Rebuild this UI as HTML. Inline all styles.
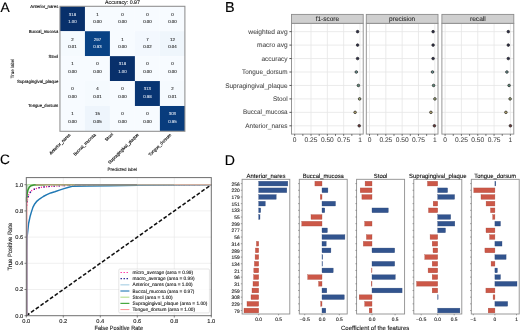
<!DOCTYPE html>
<html><head><meta charset="utf-8"><style>
html,body{margin:0;padding:0;background:#fff;}
#fig{position:relative;width:520px;height:331px;overflow:hidden;background:#fff;}
svg{display:block;will-change:transform;}
text{font-family:"Liberation Sans", sans-serif;text-rendering:geometricPrecision;}
</style></head><body>
<div id="fig"><svg width="520" height="331" viewBox="0 0 520 331">
<text x="0.50" y="11.60" font-size="13.80" fill="#000" text-anchor="start" stroke="#000" stroke-width="0.15">A</text>
<text x="225.00" y="11.80" font-size="14.40" fill="#000" text-anchor="start" stroke="#000" stroke-width="0.15">B</text>
<text x="0.00" y="164.30" font-size="13.60" fill="#000" text-anchor="start" stroke="#000" stroke-width="0.15">C</text>
<text x="224.80" y="164.60" font-size="14.10" fill="#000" text-anchor="start" stroke="#000" stroke-width="0.15">D</text>
<rect x="59.95" y="6.30" width="25.04" height="24.97" fill="#08306b"/>
<rect x="84.94" y="6.30" width="25.04" height="24.97" fill="#f7fbff"/>
<rect x="109.93" y="6.30" width="25.04" height="24.97" fill="#f7fbff"/>
<rect x="134.92" y="6.30" width="25.04" height="24.97" fill="#f7fbff"/>
<rect x="159.91" y="6.30" width="25.04" height="24.97" fill="#f7fbff"/>
<rect x="59.95" y="31.22" width="25.04" height="24.97" fill="#f5fafe"/>
<rect x="84.94" y="31.22" width="25.04" height="24.97" fill="#084285"/>
<rect x="109.93" y="31.22" width="25.04" height="24.97" fill="#f7fbff"/>
<rect x="134.92" y="31.22" width="25.04" height="24.97" fill="#f3f8fe"/>
<rect x="159.91" y="31.22" width="25.04" height="24.97" fill="#eff6fc"/>
<rect x="59.95" y="56.14" width="25.04" height="24.97" fill="#f7fbff"/>
<rect x="84.94" y="56.14" width="25.04" height="24.97" fill="#f7fbff"/>
<rect x="109.93" y="56.14" width="25.04" height="24.97" fill="#08306b"/>
<rect x="134.92" y="56.14" width="25.04" height="24.97" fill="#f7fbff"/>
<rect x="159.91" y="56.14" width="25.04" height="24.97" fill="#f7fbff"/>
<rect x="59.95" y="81.06" width="25.04" height="24.97" fill="#f7fbff"/>
<rect x="84.94" y="81.06" width="25.04" height="24.97" fill="#f5fafe"/>
<rect x="109.93" y="81.06" width="25.04" height="24.97" fill="#f7fbff"/>
<rect x="134.92" y="81.06" width="25.04" height="24.97" fill="#083573"/>
<rect x="159.91" y="81.06" width="25.04" height="24.97" fill="#f5fafe"/>
<rect x="59.95" y="105.98" width="25.04" height="24.97" fill="#f7fbff"/>
<rect x="84.94" y="105.98" width="25.04" height="24.97" fill="#eef5fc"/>
<rect x="109.93" y="105.98" width="25.04" height="24.97" fill="#f7fbff"/>
<rect x="134.92" y="105.98" width="25.04" height="24.97" fill="#f7fbff"/>
<rect x="159.91" y="105.98" width="25.04" height="24.97" fill="#083c7d"/>
<text x="72.45" y="15.60" font-size="4.40" fill="#e8eef8" text-anchor="middle" textLength="7.31" lengthAdjust="spacingAndGlyphs" stroke="#e8eef8" stroke-width="0.05">318</text>
<text x="72.45" y="22.90" font-size="4.40" fill="#e8eef8" text-anchor="middle" textLength="8.53" lengthAdjust="spacingAndGlyphs" stroke="#e8eef8" stroke-width="0.05">1.00</text>
<text x="97.44" y="15.60" font-size="4.40" fill="#111111" text-anchor="middle" textLength="2.44" lengthAdjust="spacingAndGlyphs" stroke="#111111" stroke-width="0.08">1</text>
<text x="97.44" y="22.90" font-size="4.40" fill="#111111" text-anchor="middle" textLength="8.53" lengthAdjust="spacingAndGlyphs" stroke="#111111" stroke-width="0.08">0.00</text>
<text x="122.43" y="15.60" font-size="4.40" fill="#111111" text-anchor="middle" textLength="2.44" lengthAdjust="spacingAndGlyphs" stroke="#111111" stroke-width="0.08">0</text>
<text x="122.43" y="22.90" font-size="4.40" fill="#111111" text-anchor="middle" textLength="8.53" lengthAdjust="spacingAndGlyphs" stroke="#111111" stroke-width="0.08">0.00</text>
<text x="147.42" y="15.60" font-size="4.40" fill="#111111" text-anchor="middle" textLength="2.44" lengthAdjust="spacingAndGlyphs" stroke="#111111" stroke-width="0.08">0</text>
<text x="147.42" y="22.90" font-size="4.40" fill="#111111" text-anchor="middle" textLength="8.53" lengthAdjust="spacingAndGlyphs" stroke="#111111" stroke-width="0.08">0.00</text>
<text x="172.41" y="15.60" font-size="4.40" fill="#111111" text-anchor="middle" textLength="2.44" lengthAdjust="spacingAndGlyphs" stroke="#111111" stroke-width="0.08">0</text>
<text x="172.41" y="22.90" font-size="4.40" fill="#111111" text-anchor="middle" textLength="8.53" lengthAdjust="spacingAndGlyphs" stroke="#111111" stroke-width="0.08">0.00</text>
<text x="72.45" y="40.52" font-size="4.40" fill="#111111" text-anchor="middle" textLength="2.44" lengthAdjust="spacingAndGlyphs" stroke="#111111" stroke-width="0.08">2</text>
<text x="72.45" y="47.82" font-size="4.40" fill="#111111" text-anchor="middle" textLength="8.53" lengthAdjust="spacingAndGlyphs" stroke="#111111" stroke-width="0.08">0.01</text>
<text x="97.44" y="40.52" font-size="4.40" fill="#e8eef8" text-anchor="middle" textLength="7.31" lengthAdjust="spacingAndGlyphs" stroke="#e8eef8" stroke-width="0.05">297</text>
<text x="97.44" y="47.82" font-size="4.40" fill="#e8eef8" text-anchor="middle" textLength="8.53" lengthAdjust="spacingAndGlyphs" stroke="#e8eef8" stroke-width="0.05">0.93</text>
<text x="122.43" y="40.52" font-size="4.40" fill="#111111" text-anchor="middle" textLength="2.44" lengthAdjust="spacingAndGlyphs" stroke="#111111" stroke-width="0.08">1</text>
<text x="122.43" y="47.82" font-size="4.40" fill="#111111" text-anchor="middle" textLength="8.53" lengthAdjust="spacingAndGlyphs" stroke="#111111" stroke-width="0.08">0.00</text>
<text x="147.42" y="40.52" font-size="4.40" fill="#111111" text-anchor="middle" textLength="2.44" lengthAdjust="spacingAndGlyphs" stroke="#111111" stroke-width="0.08">7</text>
<text x="147.42" y="47.82" font-size="4.40" fill="#111111" text-anchor="middle" textLength="8.53" lengthAdjust="spacingAndGlyphs" stroke="#111111" stroke-width="0.08">0.02</text>
<text x="172.41" y="40.52" font-size="4.40" fill="#111111" text-anchor="middle" textLength="4.87" lengthAdjust="spacingAndGlyphs" stroke="#111111" stroke-width="0.08">12</text>
<text x="172.41" y="47.82" font-size="4.40" fill="#111111" text-anchor="middle" textLength="8.53" lengthAdjust="spacingAndGlyphs" stroke="#111111" stroke-width="0.08">0.04</text>
<text x="72.45" y="65.44" font-size="4.40" fill="#111111" text-anchor="middle" textLength="2.44" lengthAdjust="spacingAndGlyphs" stroke="#111111" stroke-width="0.08">1</text>
<text x="72.45" y="72.74" font-size="4.40" fill="#111111" text-anchor="middle" textLength="8.53" lengthAdjust="spacingAndGlyphs" stroke="#111111" stroke-width="0.08">0.00</text>
<text x="97.44" y="65.44" font-size="4.40" fill="#111111" text-anchor="middle" textLength="2.44" lengthAdjust="spacingAndGlyphs" stroke="#111111" stroke-width="0.08">0</text>
<text x="97.44" y="72.74" font-size="4.40" fill="#111111" text-anchor="middle" textLength="8.53" lengthAdjust="spacingAndGlyphs" stroke="#111111" stroke-width="0.08">0.00</text>
<text x="122.43" y="65.44" font-size="4.40" fill="#e8eef8" text-anchor="middle" textLength="7.31" lengthAdjust="spacingAndGlyphs" stroke="#e8eef8" stroke-width="0.05">318</text>
<text x="122.43" y="72.74" font-size="4.40" fill="#e8eef8" text-anchor="middle" textLength="8.53" lengthAdjust="spacingAndGlyphs" stroke="#e8eef8" stroke-width="0.05">1.00</text>
<text x="147.42" y="65.44" font-size="4.40" fill="#111111" text-anchor="middle" textLength="2.44" lengthAdjust="spacingAndGlyphs" stroke="#111111" stroke-width="0.08">0</text>
<text x="147.42" y="72.74" font-size="4.40" fill="#111111" text-anchor="middle" textLength="8.53" lengthAdjust="spacingAndGlyphs" stroke="#111111" stroke-width="0.08">0.00</text>
<text x="172.41" y="65.44" font-size="4.40" fill="#111111" text-anchor="middle" textLength="2.44" lengthAdjust="spacingAndGlyphs" stroke="#111111" stroke-width="0.08">0</text>
<text x="172.41" y="72.74" font-size="4.40" fill="#111111" text-anchor="middle" textLength="8.53" lengthAdjust="spacingAndGlyphs" stroke="#111111" stroke-width="0.08">0.00</text>
<text x="72.45" y="90.36" font-size="4.40" fill="#111111" text-anchor="middle" textLength="2.44" lengthAdjust="spacingAndGlyphs" stroke="#111111" stroke-width="0.08">0</text>
<text x="72.45" y="97.66" font-size="4.40" fill="#111111" text-anchor="middle" textLength="8.53" lengthAdjust="spacingAndGlyphs" stroke="#111111" stroke-width="0.08">0.00</text>
<text x="97.44" y="90.36" font-size="4.40" fill="#111111" text-anchor="middle" textLength="2.44" lengthAdjust="spacingAndGlyphs" stroke="#111111" stroke-width="0.08">4</text>
<text x="97.44" y="97.66" font-size="4.40" fill="#111111" text-anchor="middle" textLength="8.53" lengthAdjust="spacingAndGlyphs" stroke="#111111" stroke-width="0.08">0.01</text>
<text x="122.43" y="90.36" font-size="4.40" fill="#111111" text-anchor="middle" textLength="2.44" lengthAdjust="spacingAndGlyphs" stroke="#111111" stroke-width="0.08">0</text>
<text x="122.43" y="97.66" font-size="4.40" fill="#111111" text-anchor="middle" textLength="8.53" lengthAdjust="spacingAndGlyphs" stroke="#111111" stroke-width="0.08">0.00</text>
<text x="147.42" y="90.36" font-size="4.40" fill="#e8eef8" text-anchor="middle" textLength="7.31" lengthAdjust="spacingAndGlyphs" stroke="#e8eef8" stroke-width="0.05">313</text>
<text x="147.42" y="97.66" font-size="4.40" fill="#e8eef8" text-anchor="middle" textLength="8.53" lengthAdjust="spacingAndGlyphs" stroke="#e8eef8" stroke-width="0.05">0.98</text>
<text x="172.41" y="90.36" font-size="4.40" fill="#111111" text-anchor="middle" textLength="2.44" lengthAdjust="spacingAndGlyphs" stroke="#111111" stroke-width="0.08">2</text>
<text x="172.41" y="97.66" font-size="4.40" fill="#111111" text-anchor="middle" textLength="8.53" lengthAdjust="spacingAndGlyphs" stroke="#111111" stroke-width="0.08">0.01</text>
<text x="72.45" y="115.28" font-size="4.40" fill="#111111" text-anchor="middle" textLength="2.44" lengthAdjust="spacingAndGlyphs" stroke="#111111" stroke-width="0.08">1</text>
<text x="72.45" y="122.58" font-size="4.40" fill="#111111" text-anchor="middle" textLength="8.53" lengthAdjust="spacingAndGlyphs" stroke="#111111" stroke-width="0.08">0.00</text>
<text x="97.44" y="115.28" font-size="4.40" fill="#111111" text-anchor="middle" textLength="4.87" lengthAdjust="spacingAndGlyphs" stroke="#111111" stroke-width="0.08">15</text>
<text x="97.44" y="122.58" font-size="4.40" fill="#111111" text-anchor="middle" textLength="8.53" lengthAdjust="spacingAndGlyphs" stroke="#111111" stroke-width="0.08">0.05</text>
<text x="122.43" y="115.28" font-size="4.40" fill="#111111" text-anchor="middle" textLength="2.44" lengthAdjust="spacingAndGlyphs" stroke="#111111" stroke-width="0.08">0</text>
<text x="122.43" y="122.58" font-size="4.40" fill="#111111" text-anchor="middle" textLength="8.53" lengthAdjust="spacingAndGlyphs" stroke="#111111" stroke-width="0.08">0.00</text>
<text x="147.42" y="115.28" font-size="4.40" fill="#111111" text-anchor="middle" textLength="2.44" lengthAdjust="spacingAndGlyphs" stroke="#111111" stroke-width="0.08">0</text>
<text x="147.42" y="122.58" font-size="4.40" fill="#111111" text-anchor="middle" textLength="8.53" lengthAdjust="spacingAndGlyphs" stroke="#111111" stroke-width="0.08">0.00</text>
<text x="172.41" y="115.28" font-size="4.40" fill="#e8eef8" text-anchor="middle" textLength="7.31" lengthAdjust="spacingAndGlyphs" stroke="#e8eef8" stroke-width="0.05">303</text>
<text x="172.41" y="122.58" font-size="4.40" fill="#e8eef8" text-anchor="middle" textLength="8.53" lengthAdjust="spacingAndGlyphs" stroke="#e8eef8" stroke-width="0.05">0.95</text>
<rect x="59.95" y="6.30" width="124.95" height="125.00" fill="none" stroke="#8e8e8e" stroke-width="1.05"/>
<text x="122.50" y="4.30" font-size="5.46" fill="#111" text-anchor="middle" textLength="35.03" lengthAdjust="spacingAndGlyphs" stroke="#111" stroke-width="0.1">Accuracy: 0.97</text>
<text x="58.30" y="7.80" font-size="4.40" fill="#111" text-anchor="end" textLength="27.99" lengthAdjust="spacingAndGlyphs" stroke="#111" stroke-width="0.14">Anterior_nares</text>
<text x="58.30" y="32.72" font-size="4.40" fill="#111" text-anchor="end" textLength="29.54" lengthAdjust="spacingAndGlyphs" stroke="#111" stroke-width="0.14">Buccal_mucosa</text>
<text x="58.30" y="57.64" font-size="4.40" fill="#111" text-anchor="end" textLength="9.68" lengthAdjust="spacingAndGlyphs" stroke="#111" stroke-width="0.14">Stool</text>
<text x="58.30" y="82.56" font-size="4.40" fill="#111" text-anchor="end" textLength="41.28" lengthAdjust="spacingAndGlyphs" stroke="#111" stroke-width="0.14">Supragingival_plaque</text>
<text x="58.30" y="107.48" font-size="4.40" fill="#111" text-anchor="end" textLength="30.09" lengthAdjust="spacingAndGlyphs" stroke="#111" stroke-width="0.14">Tongue_dorsum</text>
<text x="0" y="0" transform="translate(13.70 68.50) rotate(-90)" font-size="4.66" fill="#111" text-anchor="middle" textLength="19.68" lengthAdjust="spacingAndGlyphs" stroke="#111" stroke-width="0.1">True label</text>
<text x="0" y="0" transform="translate(70.70 135.20) rotate(-45)" font-size="4.40" fill="#111" text-anchor="end" textLength="27.99" lengthAdjust="spacingAndGlyphs" stroke="#111" stroke-width="0.16">Anterior_nares</text>
<text x="0" y="0" transform="translate(96.10 135.00) rotate(-45)" font-size="4.40" fill="#111" text-anchor="end" textLength="29.54" lengthAdjust="spacingAndGlyphs" stroke="#111" stroke-width="0.16">Buccal_mucosa</text>
<text x="0" y="0" transform="translate(113.40 134.60) rotate(-45)" font-size="4.40" fill="#111" text-anchor="end" textLength="9.68" lengthAdjust="spacingAndGlyphs" stroke="#111" stroke-width="0.16">Stool</text>
<text x="0" y="0" transform="translate(139.00 135.00) rotate(-45)" font-size="4.40" fill="#111" text-anchor="end" textLength="41.28" lengthAdjust="spacingAndGlyphs" stroke="#111" stroke-width="0.16">Supragingival_plaque</text>
<text x="0" y="0" transform="translate(171.50 135.20) rotate(-45)" font-size="4.40" fill="#111" text-anchor="end" textLength="30.09" lengthAdjust="spacingAndGlyphs" stroke="#111" stroke-width="0.16">Tongue_dorsum</text>
<text x="122.30" y="170.50" font-size="4.58" fill="#111" text-anchor="middle" textLength="29.58" lengthAdjust="spacingAndGlyphs" stroke="#111" stroke-width="0.1">Predicted label</text>
<rect x="291.50" y="23.30" width="71.70" height="110.80" fill="#ffffff"/>
<line x1="294.70" y1="23.3" x2="294.70" y2="134.1" stroke="#e6e6e6" stroke-width="0.8"/>
<line x1="311.02" y1="23.3" x2="311.02" y2="134.1" stroke="#e6e6e6" stroke-width="0.8"/>
<line x1="327.35" y1="23.3" x2="327.35" y2="134.1" stroke="#e6e6e6" stroke-width="0.8"/>
<line x1="343.67" y1="23.3" x2="343.67" y2="134.1" stroke="#e6e6e6" stroke-width="0.8"/>
<line x1="360.00" y1="23.3" x2="360.00" y2="134.1" stroke="#e6e6e6" stroke-width="0.8"/>
<line x1="291.5" y1="31.65" x2="363.2" y2="31.65" stroke="#e6e6e6" stroke-width="0.8"/>
<line x1="291.5" y1="45.10" x2="363.2" y2="45.10" stroke="#e6e6e6" stroke-width="0.8"/>
<line x1="291.5" y1="58.55" x2="363.2" y2="58.55" stroke="#e6e6e6" stroke-width="0.8"/>
<line x1="291.5" y1="72.00" x2="363.2" y2="72.00" stroke="#e6e6e6" stroke-width="0.8"/>
<line x1="291.5" y1="85.45" x2="363.2" y2="85.45" stroke="#e6e6e6" stroke-width="0.8"/>
<line x1="291.5" y1="98.90" x2="363.2" y2="98.90" stroke="#e6e6e6" stroke-width="0.8"/>
<line x1="291.5" y1="112.35" x2="363.2" y2="112.35" stroke="#e6e6e6" stroke-width="0.8"/>
<line x1="291.5" y1="125.80" x2="363.2" y2="125.80" stroke="#e6e6e6" stroke-width="0.8"/>
<circle cx="357.60" cy="31.65" r="1.3" fill="#2a2a48" stroke="#2a2a2a" stroke-width="0.75"/>
<circle cx="357.60" cy="45.10" r="1.3" fill="#2a2a48" stroke="#2a2a2a" stroke-width="0.75"/>
<circle cx="357.60" cy="58.55" r="1.3" fill="#2a2a48" stroke="#2a2a2a" stroke-width="0.75"/>
<circle cx="356.30" cy="72.00" r="1.3" fill="#6a9696" stroke="#2a2a2a" stroke-width="0.75"/>
<circle cx="358.40" cy="85.45" r="1.3" fill="#5a8a78" stroke="#2a2a2a" stroke-width="0.75"/>
<circle cx="359.60" cy="98.90" r="1.3" fill="#a0a878" stroke="#2a2a2a" stroke-width="0.75"/>
<circle cx="355.10" cy="112.35" r="1.3" fill="#b8a870" stroke="#2a2a2a" stroke-width="0.75"/>
<circle cx="359.20" cy="125.80" r="1.3" fill="#6a3434" stroke="#2a2a2a" stroke-width="0.75"/>
<rect x="291.50" y="23.30" width="71.70" height="110.80" fill="none" stroke="#8c8c8c" stroke-width="0.9"/>
<rect x="291.50" y="14.4" width="71.70" height="8.90" fill="#cfcfcf" stroke="#8c8c8c" stroke-width="0.9"/>
<text x="327.35" y="20.90" font-size="6.66" fill="#222" text-anchor="middle" textLength="23.37" lengthAdjust="spacingAndGlyphs" stroke="#222" stroke-width="0.06">f1-score</text>
<line x1="302.86" y1="134.1" x2="302.86" y2="135.9" stroke="#333" stroke-width="0.7"/>
<line x1="319.19" y1="134.1" x2="319.19" y2="135.9" stroke="#333" stroke-width="0.7"/>
<line x1="335.51" y1="134.1" x2="335.51" y2="135.9" stroke="#333" stroke-width="0.7"/>
<line x1="351.84" y1="134.1" x2="351.84" y2="135.9" stroke="#333" stroke-width="0.7"/>
<line x1="294.70" y1="134.1" x2="294.70" y2="135.9" stroke="#333" stroke-width="0.7"/>
<text x="294.70" y="141.80" font-size="6.66" fill="#444" text-anchor="middle" textLength="3.68" lengthAdjust="spacingAndGlyphs" stroke="#444" stroke-width="0.06">0</text>
<line x1="311.02" y1="134.1" x2="311.02" y2="135.9" stroke="#333" stroke-width="0.7"/>
<text x="311.02" y="141.80" font-size="6.66" fill="#444" text-anchor="middle" textLength="12.89" lengthAdjust="spacingAndGlyphs" stroke="#444" stroke-width="0.06">0.25</text>
<line x1="327.35" y1="134.1" x2="327.35" y2="135.9" stroke="#333" stroke-width="0.7"/>
<text x="327.35" y="141.80" font-size="6.66" fill="#444" text-anchor="middle" textLength="12.89" lengthAdjust="spacingAndGlyphs" stroke="#444" stroke-width="0.06">0.50</text>
<line x1="343.67" y1="134.1" x2="343.67" y2="135.9" stroke="#333" stroke-width="0.7"/>
<text x="343.67" y="141.80" font-size="6.66" fill="#444" text-anchor="middle" textLength="12.89" lengthAdjust="spacingAndGlyphs" stroke="#444" stroke-width="0.06">0.75</text>
<line x1="360.00" y1="134.1" x2="360.00" y2="135.9" stroke="#333" stroke-width="0.7"/>
<text x="360.00" y="141.80" font-size="6.66" fill="#444" text-anchor="middle" textLength="3.68" lengthAdjust="spacingAndGlyphs" stroke="#444" stroke-width="0.06">1</text>
<rect x="366.30" y="23.30" width="71.70" height="110.80" fill="#ffffff"/>
<line x1="369.50" y1="23.3" x2="369.50" y2="134.1" stroke="#e6e6e6" stroke-width="0.8"/>
<line x1="385.82" y1="23.3" x2="385.82" y2="134.1" stroke="#e6e6e6" stroke-width="0.8"/>
<line x1="402.15" y1="23.3" x2="402.15" y2="134.1" stroke="#e6e6e6" stroke-width="0.8"/>
<line x1="418.48" y1="23.3" x2="418.48" y2="134.1" stroke="#e6e6e6" stroke-width="0.8"/>
<line x1="434.80" y1="23.3" x2="434.80" y2="134.1" stroke="#e6e6e6" stroke-width="0.8"/>
<line x1="366.3" y1="31.65" x2="438.0" y2="31.65" stroke="#e6e6e6" stroke-width="0.8"/>
<line x1="366.3" y1="45.10" x2="438.0" y2="45.10" stroke="#e6e6e6" stroke-width="0.8"/>
<line x1="366.3" y1="58.55" x2="438.0" y2="58.55" stroke="#e6e6e6" stroke-width="0.8"/>
<line x1="366.3" y1="72.00" x2="438.0" y2="72.00" stroke="#e6e6e6" stroke-width="0.8"/>
<line x1="366.3" y1="85.45" x2="438.0" y2="85.45" stroke="#e6e6e6" stroke-width="0.8"/>
<line x1="366.3" y1="98.90" x2="438.0" y2="98.90" stroke="#e6e6e6" stroke-width="0.8"/>
<line x1="366.3" y1="112.35" x2="438.0" y2="112.35" stroke="#e6e6e6" stroke-width="0.8"/>
<line x1="366.3" y1="125.80" x2="438.0" y2="125.80" stroke="#e6e6e6" stroke-width="0.8"/>
<circle cx="433.10" cy="31.65" r="1.3" fill="#2a2a48" stroke="#2a2a2a" stroke-width="0.75"/>
<circle cx="433.10" cy="45.10" r="1.3" fill="#2a2a48" stroke="#2a2a2a" stroke-width="0.75"/>
<circle cx="433.10" cy="58.55" r="1.3" fill="#2a2a48" stroke="#2a2a2a" stroke-width="0.75"/>
<circle cx="432.50" cy="72.00" r="1.3" fill="#6a9696" stroke="#2a2a2a" stroke-width="0.75"/>
<circle cx="433.60" cy="85.45" r="1.3" fill="#5a8a78" stroke="#2a2a2a" stroke-width="0.75"/>
<circle cx="434.90" cy="98.90" r="1.3" fill="#a0a878" stroke="#2a2a2a" stroke-width="0.75"/>
<circle cx="430.90" cy="112.35" r="1.3" fill="#b8a870" stroke="#2a2a2a" stroke-width="0.75"/>
<circle cx="434.40" cy="125.80" r="1.3" fill="#6a3434" stroke="#2a2a2a" stroke-width="0.75"/>
<rect x="366.30" y="23.30" width="71.70" height="110.80" fill="none" stroke="#8c8c8c" stroke-width="0.9"/>
<rect x="366.30" y="14.4" width="71.70" height="8.90" fill="#cfcfcf" stroke="#8c8c8c" stroke-width="0.9"/>
<text x="402.15" y="20.90" font-size="6.66" fill="#222" text-anchor="middle" textLength="26.12" lengthAdjust="spacingAndGlyphs" stroke="#222" stroke-width="0.06">precision</text>
<line x1="377.66" y1="134.1" x2="377.66" y2="135.9" stroke="#333" stroke-width="0.7"/>
<line x1="393.99" y1="134.1" x2="393.99" y2="135.9" stroke="#333" stroke-width="0.7"/>
<line x1="410.31" y1="134.1" x2="410.31" y2="135.9" stroke="#333" stroke-width="0.7"/>
<line x1="426.64" y1="134.1" x2="426.64" y2="135.9" stroke="#333" stroke-width="0.7"/>
<line x1="369.50" y1="134.1" x2="369.50" y2="135.9" stroke="#333" stroke-width="0.7"/>
<text x="369.50" y="141.80" font-size="6.66" fill="#444" text-anchor="middle" textLength="3.68" lengthAdjust="spacingAndGlyphs" stroke="#444" stroke-width="0.06">0</text>
<line x1="385.82" y1="134.1" x2="385.82" y2="135.9" stroke="#333" stroke-width="0.7"/>
<text x="385.82" y="141.80" font-size="6.66" fill="#444" text-anchor="middle" textLength="12.89" lengthAdjust="spacingAndGlyphs" stroke="#444" stroke-width="0.06">0.25</text>
<line x1="402.15" y1="134.1" x2="402.15" y2="135.9" stroke="#333" stroke-width="0.7"/>
<text x="402.15" y="141.80" font-size="6.66" fill="#444" text-anchor="middle" textLength="12.89" lengthAdjust="spacingAndGlyphs" stroke="#444" stroke-width="0.06">0.50</text>
<line x1="418.48" y1="134.1" x2="418.48" y2="135.9" stroke="#333" stroke-width="0.7"/>
<text x="418.48" y="141.80" font-size="6.66" fill="#444" text-anchor="middle" textLength="12.89" lengthAdjust="spacingAndGlyphs" stroke="#444" stroke-width="0.06">0.75</text>
<line x1="434.80" y1="134.1" x2="434.80" y2="135.9" stroke="#333" stroke-width="0.7"/>
<text x="434.80" y="141.80" font-size="6.66" fill="#444" text-anchor="middle" textLength="3.68" lengthAdjust="spacingAndGlyphs" stroke="#444" stroke-width="0.06">1</text>
<rect x="441.90" y="23.30" width="71.90" height="110.80" fill="#ffffff"/>
<line x1="445.10" y1="23.3" x2="445.10" y2="134.1" stroke="#e6e6e6" stroke-width="0.8"/>
<line x1="461.42" y1="23.3" x2="461.42" y2="134.1" stroke="#e6e6e6" stroke-width="0.8"/>
<line x1="477.75" y1="23.3" x2="477.75" y2="134.1" stroke="#e6e6e6" stroke-width="0.8"/>
<line x1="494.07" y1="23.3" x2="494.07" y2="134.1" stroke="#e6e6e6" stroke-width="0.8"/>
<line x1="510.40" y1="23.3" x2="510.40" y2="134.1" stroke="#e6e6e6" stroke-width="0.8"/>
<line x1="441.9" y1="31.65" x2="513.8" y2="31.65" stroke="#e6e6e6" stroke-width="0.8"/>
<line x1="441.9" y1="45.10" x2="513.8" y2="45.10" stroke="#e6e6e6" stroke-width="0.8"/>
<line x1="441.9" y1="58.55" x2="513.8" y2="58.55" stroke="#e6e6e6" stroke-width="0.8"/>
<line x1="441.9" y1="72.00" x2="513.8" y2="72.00" stroke="#e6e6e6" stroke-width="0.8"/>
<line x1="441.9" y1="85.45" x2="513.8" y2="85.45" stroke="#e6e6e6" stroke-width="0.8"/>
<line x1="441.9" y1="98.90" x2="513.8" y2="98.90" stroke="#e6e6e6" stroke-width="0.8"/>
<line x1="441.9" y1="112.35" x2="513.8" y2="112.35" stroke="#e6e6e6" stroke-width="0.8"/>
<line x1="441.9" y1="125.80" x2="513.8" y2="125.80" stroke="#e6e6e6" stroke-width="0.8"/>
<circle cx="508.30" cy="31.65" r="1.3" fill="#2a2a48" stroke="#2a2a2a" stroke-width="0.75"/>
<circle cx="508.30" cy="45.10" r="1.3" fill="#2a2a48" stroke="#2a2a2a" stroke-width="0.75"/>
<circle cx="508.30" cy="58.55" r="1.3" fill="#2a2a48" stroke="#2a2a2a" stroke-width="0.75"/>
<circle cx="506.90" cy="72.00" r="1.3" fill="#6a9696" stroke="#2a2a2a" stroke-width="0.75"/>
<circle cx="509.10" cy="85.45" r="1.3" fill="#5a8a78" stroke="#2a2a2a" stroke-width="0.75"/>
<circle cx="510.10" cy="98.90" r="1.3" fill="#a0a878" stroke="#2a2a2a" stroke-width="0.75"/>
<circle cx="505.90" cy="112.35" r="1.3" fill="#b8a870" stroke="#2a2a2a" stroke-width="0.75"/>
<circle cx="510.40" cy="125.80" r="1.3" fill="#6a3434" stroke="#2a2a2a" stroke-width="0.75"/>
<rect x="441.90" y="23.30" width="71.90" height="110.80" fill="none" stroke="#8c8c8c" stroke-width="0.9"/>
<rect x="441.90" y="14.4" width="71.90" height="8.90" fill="#cfcfcf" stroke="#8c8c8c" stroke-width="0.9"/>
<text x="477.85" y="20.90" font-size="6.66" fill="#222" text-anchor="middle" textLength="15.76" lengthAdjust="spacingAndGlyphs" stroke="#222" stroke-width="0.06">recall</text>
<line x1="453.26" y1="134.1" x2="453.26" y2="135.9" stroke="#333" stroke-width="0.7"/>
<line x1="469.59" y1="134.1" x2="469.59" y2="135.9" stroke="#333" stroke-width="0.7"/>
<line x1="485.91" y1="134.1" x2="485.91" y2="135.9" stroke="#333" stroke-width="0.7"/>
<line x1="502.24" y1="134.1" x2="502.24" y2="135.9" stroke="#333" stroke-width="0.7"/>
<line x1="445.10" y1="134.1" x2="445.10" y2="135.9" stroke="#333" stroke-width="0.7"/>
<text x="445.10" y="141.80" font-size="6.66" fill="#444" text-anchor="middle" textLength="3.68" lengthAdjust="spacingAndGlyphs" stroke="#444" stroke-width="0.06">0</text>
<line x1="461.42" y1="134.1" x2="461.42" y2="135.9" stroke="#333" stroke-width="0.7"/>
<text x="461.42" y="141.80" font-size="6.66" fill="#444" text-anchor="middle" textLength="12.89" lengthAdjust="spacingAndGlyphs" stroke="#444" stroke-width="0.06">0.25</text>
<line x1="477.75" y1="134.1" x2="477.75" y2="135.9" stroke="#333" stroke-width="0.7"/>
<text x="477.75" y="141.80" font-size="6.66" fill="#444" text-anchor="middle" textLength="12.89" lengthAdjust="spacingAndGlyphs" stroke="#444" stroke-width="0.06">0.50</text>
<line x1="494.07" y1="134.1" x2="494.07" y2="135.9" stroke="#333" stroke-width="0.7"/>
<text x="494.07" y="141.80" font-size="6.66" fill="#444" text-anchor="middle" textLength="12.89" lengthAdjust="spacingAndGlyphs" stroke="#444" stroke-width="0.06">0.75</text>
<line x1="510.40" y1="134.1" x2="510.40" y2="135.9" stroke="#333" stroke-width="0.7"/>
<text x="510.40" y="141.80" font-size="6.66" fill="#444" text-anchor="middle" textLength="3.68" lengthAdjust="spacingAndGlyphs" stroke="#444" stroke-width="0.06">1</text>
<line x1="289.4" y1="31.65" x2="291.5" y2="31.65" stroke="#222" stroke-width="0.75"/>
<text x="287.60" y="33.75" font-size="6.66" fill="#444" text-anchor="end" textLength="39.25" lengthAdjust="spacingAndGlyphs" stroke="#444" stroke-width="0.06">weighted avg</text>
<line x1="289.4" y1="45.10" x2="291.5" y2="45.10" stroke="#222" stroke-width="0.75"/>
<text x="287.60" y="47.20" font-size="6.66" fill="#444" text-anchor="end" textLength="30.66" lengthAdjust="spacingAndGlyphs" stroke="#444" stroke-width="0.06">macro avg</text>
<line x1="289.4" y1="58.55" x2="291.5" y2="58.55" stroke="#222" stroke-width="0.75"/>
<text x="287.60" y="60.65" font-size="6.66" fill="#444" text-anchor="end" textLength="26.12" lengthAdjust="spacingAndGlyphs" stroke="#444" stroke-width="0.06">accuracy</text>
<line x1="289.4" y1="72.00" x2="291.5" y2="72.00" stroke="#222" stroke-width="0.75"/>
<text x="287.60" y="74.10" font-size="6.66" fill="#444" text-anchor="end" textLength="45.49" lengthAdjust="spacingAndGlyphs" stroke="#444" stroke-width="0.06">Tongue_dorsum</text>
<line x1="289.4" y1="85.45" x2="291.5" y2="85.45" stroke="#222" stroke-width="0.75"/>
<text x="287.60" y="87.55" font-size="6.66" fill="#444" text-anchor="end" textLength="62.41" lengthAdjust="spacingAndGlyphs" stroke="#444" stroke-width="0.06">Supragingival_plaque</text>
<line x1="289.4" y1="98.90" x2="291.5" y2="98.90" stroke="#222" stroke-width="0.75"/>
<text x="287.60" y="101.00" font-size="6.66" fill="#444" text-anchor="end" textLength="14.64" lengthAdjust="spacingAndGlyphs" stroke="#444" stroke-width="0.06">Stool</text>
<line x1="289.4" y1="112.35" x2="291.5" y2="112.35" stroke="#222" stroke-width="0.75"/>
<text x="287.60" y="114.45" font-size="6.66" fill="#444" text-anchor="end" textLength="44.66" lengthAdjust="spacingAndGlyphs" stroke="#444" stroke-width="0.06">Buccal_mucosa</text>
<line x1="289.4" y1="125.80" x2="291.5" y2="125.80" stroke="#222" stroke-width="0.75"/>
<text x="287.60" y="127.90" font-size="6.66" fill="#444" text-anchor="end" textLength="42.32" lengthAdjust="spacingAndGlyphs" stroke="#444" stroke-width="0.06">Anterior_nares</text>
<rect x="26.3" y="177.6" width="185.00" height="138.10" fill="#ffffff"/>
<line x1="63.30" y1="177.6" x2="63.30" y2="315.7" stroke="#e6e6e6" stroke-width="0.6"/>
<line x1="100.30" y1="177.6" x2="100.30" y2="315.7" stroke="#e6e6e6" stroke-width="0.6"/>
<line x1="137.30" y1="177.6" x2="137.30" y2="315.7" stroke="#e6e6e6" stroke-width="0.6"/>
<line x1="174.30" y1="177.6" x2="174.30" y2="315.7" stroke="#e6e6e6" stroke-width="0.6"/>
<line x1="26.3" y1="289.50" x2="211.3" y2="289.50" stroke="#e6e6e6" stroke-width="0.6"/>
<line x1="26.3" y1="263.30" x2="211.3" y2="263.30" stroke="#e6e6e6" stroke-width="0.6"/>
<line x1="26.3" y1="237.10" x2="211.3" y2="237.10" stroke="#e6e6e6" stroke-width="0.6"/>
<line x1="26.3" y1="210.90" x2="211.3" y2="210.90" stroke="#e6e6e6" stroke-width="0.6"/>
<line x1="26.30" y1="315.70" x2="211.30" y2="184.70" stroke="#111" stroke-width="1.55" stroke-dasharray="3.8 2.0"/>
<path d="M27.04,205.66 L27.41,200.42 L27.96,197.14 L28.80,194.52 L30.00,192.56 L31.85,190.59 L34.62,189.02 L38.33,187.84 L42.95,187.06 L48.50,186.53 L55.90,186.01 L63.30,185.62 L72.55,185.22 L91.05,184.96 L211.30,184.70" fill="none" stroke="#ff1493" stroke-width="1.3" stroke-dasharray="1.1 1.5"/>
<path d="M27.04,205.66 L27.41,200.42 L27.96,197.14 L28.80,194.52 L30.00,192.56 L31.85,190.59 L34.62,189.02 L38.33,187.84 L42.95,187.06 L48.50,186.53 L55.90,186.01 L63.30,185.62 L72.55,185.22 L91.05,184.96 L211.30,184.70" fill="none" stroke="#000080" stroke-width="1.3" stroke-dasharray="1.1 3.9" stroke-dashoffset="1.3"/>
<path d="M26.95,191.25 L26.95,186.01 L28.15,184.70 L211.30,184.70" fill="none" stroke="#a6cee3" stroke-width="1.1"/>
<path d="M26.95,315.70 L26.95,250.20 L27.10,237.10 L28.59,223.48 L30.00,216.79 L31.20,212.60 L32.90,207.36 L34.70,203.96 L36.99,201.07 L39.80,198.78 L43.30,196.49 L46.84,194.66 L50.72,192.95 L54.79,191.77 L59.42,190.07 L64.04,188.63 L68.67,187.19 L72.18,186.40 L86.06,186.14 L109.55,185.75 L137.30,185.35 L211.30,184.70" fill="none" stroke="#1f78b4" stroke-width="1.45" stroke-linejoin="round"/>
<path d="M26.95,191.25 L26.95,184.70 L211.30,184.70" fill="none" stroke="#b2df8a" stroke-width="1.1"/>
<path d="M26.58,201.73 L26.67,197.80 L27.23,193.21 L27.96,189.94 L29.26,187.06 L31.11,185.62 L33.70,184.96 L37.40,184.70 L44.80,184.70" fill="none" stroke="#3a9632" stroke-width="1.6"/>
<path d="M26.95,315.70 L26.95,197.80" fill="none" stroke="#f0a0a0" stroke-width="1.2"/>
<path d="M35.55,184.83 L74.40,184.83" fill="none" stroke="#a8a274" stroke-width="1.5"/>
<path d="M74.40,184.83 L137.30,184.83" fill="none" stroke="#8e8c84" stroke-width="1.6"/>
<path d="M137.30,184.83 L174.30,184.83" fill="none" stroke="#b89c9c" stroke-width="1.3"/>
<path d="M174.30,184.83 L211.30,184.83" fill="none" stroke="#f0a4a4" stroke-width="1.0"/>
<rect x="26.3" y="177.6" width="185.00" height="138.10" fill="none" stroke="#6e6e6e" stroke-width="1.0"/>
<line x1="26.30" y1="315.7" x2="26.30" y2="317.5" stroke="#333" stroke-width="0.6"/>
<text x="26.30" y="323.20" font-size="5.75" fill="#222" text-anchor="middle" textLength="7.95" lengthAdjust="spacingAndGlyphs" stroke="#222" stroke-width="0.12">0.0</text>
<line x1="24.5" y1="315.70" x2="26.3" y2="315.70" stroke="#333" stroke-width="0.6"/>
<text x="23.30" y="317.50" font-size="5.75" fill="#222" text-anchor="end" textLength="7.95" lengthAdjust="spacingAndGlyphs" stroke="#222" stroke-width="0.12">0.0</text>
<line x1="63.30" y1="315.7" x2="63.30" y2="317.5" stroke="#333" stroke-width="0.6"/>
<text x="63.30" y="323.20" font-size="5.75" fill="#222" text-anchor="middle" textLength="7.95" lengthAdjust="spacingAndGlyphs" stroke="#222" stroke-width="0.12">0.2</text>
<line x1="24.5" y1="289.50" x2="26.3" y2="289.50" stroke="#333" stroke-width="0.6"/>
<text x="23.30" y="291.30" font-size="5.75" fill="#222" text-anchor="end" textLength="7.95" lengthAdjust="spacingAndGlyphs" stroke="#222" stroke-width="0.12">0.2</text>
<line x1="100.30" y1="315.7" x2="100.30" y2="317.5" stroke="#333" stroke-width="0.6"/>
<text x="100.30" y="323.20" font-size="5.75" fill="#222" text-anchor="middle" textLength="7.95" lengthAdjust="spacingAndGlyphs" stroke="#222" stroke-width="0.12">0.4</text>
<line x1="24.5" y1="263.30" x2="26.3" y2="263.30" stroke="#333" stroke-width="0.6"/>
<text x="23.30" y="265.10" font-size="5.75" fill="#222" text-anchor="end" textLength="7.95" lengthAdjust="spacingAndGlyphs" stroke="#222" stroke-width="0.12">0.4</text>
<line x1="137.30" y1="315.7" x2="137.30" y2="317.5" stroke="#333" stroke-width="0.6"/>
<text x="137.30" y="323.20" font-size="5.75" fill="#222" text-anchor="middle" textLength="7.95" lengthAdjust="spacingAndGlyphs" stroke="#222" stroke-width="0.12">0.6</text>
<line x1="24.5" y1="237.10" x2="26.3" y2="237.10" stroke="#333" stroke-width="0.6"/>
<text x="23.30" y="238.90" font-size="5.75" fill="#222" text-anchor="end" textLength="7.95" lengthAdjust="spacingAndGlyphs" stroke="#222" stroke-width="0.12">0.6</text>
<line x1="174.30" y1="315.7" x2="174.30" y2="317.5" stroke="#333" stroke-width="0.6"/>
<text x="174.30" y="323.20" font-size="5.75" fill="#222" text-anchor="middle" textLength="7.95" lengthAdjust="spacingAndGlyphs" stroke="#222" stroke-width="0.12">0.8</text>
<line x1="24.5" y1="210.90" x2="26.3" y2="210.90" stroke="#333" stroke-width="0.6"/>
<text x="23.30" y="212.70" font-size="5.75" fill="#222" text-anchor="end" textLength="7.95" lengthAdjust="spacingAndGlyphs" stroke="#222" stroke-width="0.12">0.8</text>
<line x1="211.30" y1="315.7" x2="211.30" y2="317.5" stroke="#333" stroke-width="0.6"/>
<text x="211.30" y="323.20" font-size="5.75" fill="#222" text-anchor="middle" textLength="7.95" lengthAdjust="spacingAndGlyphs" stroke="#222" stroke-width="0.12">1.0</text>
<line x1="24.5" y1="184.70" x2="26.3" y2="184.70" stroke="#333" stroke-width="0.6"/>
<text x="23.30" y="186.50" font-size="5.75" fill="#222" text-anchor="end" textLength="7.95" lengthAdjust="spacingAndGlyphs" stroke="#222" stroke-width="0.12">1.0</text>
<text x="118.80" y="330.10" font-size="6.00" fill="#222" text-anchor="middle" textLength="48.51" lengthAdjust="spacingAndGlyphs" stroke="#222" stroke-width="0.12">False Positive Rate</text>
<text x="0" y="0" transform="translate(12.40 246.60) rotate(-90)" font-size="6.14" fill="#222" text-anchor="middle" textLength="47.57" lengthAdjust="spacingAndGlyphs" stroke="#222" stroke-width="0.12">True Positive Rate</text>
<rect x="118.8" y="269.0" width="90.6" height="43.9" rx="1" fill="#ffffff" fill-opacity="0.85" stroke="#cccccc" stroke-width="0.5"/>
<line x1="120.6" y1="272.50" x2="128.4" y2="272.50" stroke="#ff1493" stroke-width="1.1" stroke-dasharray="1.2 1.8"/>
<text x="132.50" y="274.10" font-size="4.83" fill="#222" text-anchor="start" textLength="60.59" lengthAdjust="spacingAndGlyphs" stroke="#222" stroke-width="0.12">micro_average (area = 0.99)</text>
<line x1="120.6" y1="278.67" x2="128.4" y2="278.67" stroke="#000080" stroke-width="1.1" stroke-dasharray="1.2 1.8"/>
<text x="132.50" y="280.27" font-size="4.83" fill="#222" text-anchor="start" textLength="61.99" lengthAdjust="spacingAndGlyphs" stroke="#222" stroke-width="0.12">macro_average (area = 0.99)</text>
<line x1="120.4" y1="284.84" x2="129.4" y2="284.84" stroke="#a6cee3" stroke-width="1.1"/>
<text x="132.50" y="286.44" font-size="4.83" fill="#222" text-anchor="start" textLength="60.22" lengthAdjust="spacingAndGlyphs" stroke="#222" stroke-width="0.12">Anterior_nares (area = 1.00)</text>
<line x1="120.4" y1="291.01" x2="129.4" y2="291.01" stroke="#1f78b4" stroke-width="1.1"/>
<text x="132.50" y="292.61" font-size="4.83" fill="#222" text-anchor="start" textLength="61.92" lengthAdjust="spacingAndGlyphs" stroke="#222" stroke-width="0.12">Buccal_mucosa (area = 0.97)</text>
<line x1="120.4" y1="297.18" x2="129.4" y2="297.18" stroke="#b2df8a" stroke-width="1.1"/>
<text x="132.50" y="298.78" font-size="4.83" fill="#222" text-anchor="start" textLength="40.14" lengthAdjust="spacingAndGlyphs" stroke="#222" stroke-width="0.12">Stool (area = 1.00)</text>
<line x1="120.4" y1="303.35" x2="129.4" y2="303.35" stroke="#33a02c" stroke-width="1.1"/>
<text x="132.50" y="304.95" font-size="4.83" fill="#222" text-anchor="start" textLength="74.79" lengthAdjust="spacingAndGlyphs" stroke="#222" stroke-width="0.12">Supragingival_plaque (area = 1.00)</text>
<line x1="120.4" y1="309.52" x2="129.4" y2="309.52" stroke="#fb9a99" stroke-width="1.1"/>
<text x="132.50" y="311.12" font-size="4.83" fill="#222" text-anchor="start" textLength="62.52" lengthAdjust="spacingAndGlyphs" stroke="#222" stroke-width="0.12">Tongue_dorsum (area = 1.00)</text>
<rect x="242.1" y="179.3" width="47.70" height="134.70" fill="#ffffff"/>
<rect x="258.70" y="181.25" width="29.10" height="4.7" fill="#32548e" stroke="#233f70" stroke-opacity="0.7" stroke-width="0.4"/>
<rect x="258.70" y="187.93" width="28.10" height="4.7" fill="#32548e" stroke="#233f70" stroke-opacity="0.7" stroke-width="0.4"/>
<rect x="258.70" y="194.61" width="17.50" height="4.7" fill="#32548e" stroke="#233f70" stroke-opacity="0.7" stroke-width="0.4"/>
<rect x="258.70" y="201.29" width="6.60" height="4.7" fill="#32548e" stroke="#233f70" stroke-opacity="0.7" stroke-width="0.4"/>
<rect x="258.70" y="207.97" width="2.00" height="4.7" fill="#32548e" stroke="#233f70" stroke-opacity="0.7" stroke-width="0.4"/>
<rect x="258.70" y="214.65" width="1.30" height="4.7" fill="#32548e" stroke="#233f70" stroke-opacity="0.7" stroke-width="0.4"/>
<rect x="256.40" y="241.37" width="2.30" height="4.7" fill="#cc5848" stroke="#9c3a2e" stroke-opacity="0.7" stroke-width="0.4"/>
<rect x="255.40" y="248.05" width="3.30" height="4.7" fill="#cc5848" stroke="#9c3a2e" stroke-opacity="0.7" stroke-width="0.4"/>
<rect x="255.10" y="254.73" width="3.60" height="4.7" fill="#cc5848" stroke="#9c3a2e" stroke-opacity="0.7" stroke-width="0.4"/>
<rect x="254.40" y="261.41" width="4.30" height="4.7" fill="#cc5848" stroke="#9c3a2e" stroke-opacity="0.7" stroke-width="0.4"/>
<rect x="253.80" y="268.09" width="4.90" height="4.7" fill="#cc5848" stroke="#9c3a2e" stroke-opacity="0.7" stroke-width="0.4"/>
<rect x="253.60" y="274.77" width="5.10" height="4.7" fill="#cc5848" stroke="#9c3a2e" stroke-opacity="0.7" stroke-width="0.4"/>
<rect x="253.00" y="281.45" width="5.70" height="4.7" fill="#cc5848" stroke="#9c3a2e" stroke-opacity="0.7" stroke-width="0.4"/>
<rect x="252.00" y="288.13" width="6.70" height="4.7" fill="#cc5848" stroke="#9c3a2e" stroke-opacity="0.7" stroke-width="0.4"/>
<rect x="251.00" y="294.81" width="7.70" height="4.7" fill="#cc5848" stroke="#9c3a2e" stroke-opacity="0.7" stroke-width="0.4"/>
<rect x="247.00" y="301.49" width="11.70" height="4.7" fill="#cc5848" stroke="#9c3a2e" stroke-opacity="0.7" stroke-width="0.4"/>
<rect x="244.00" y="308.17" width="14.70" height="4.7" fill="#cc5848" stroke="#9c3a2e" stroke-opacity="0.7" stroke-width="0.4"/>
<rect x="242.1" y="179.3" width="47.70" height="134.70" fill="none" stroke="#8e8e8e" stroke-width="0.9"/>
<line x1="240.80" y1="183.60" x2="242.1" y2="183.60" stroke="#555" stroke-width="0.5"/>
<line x1="240.80" y1="190.28" x2="242.1" y2="190.28" stroke="#555" stroke-width="0.5"/>
<line x1="240.80" y1="196.96" x2="242.1" y2="196.96" stroke="#555" stroke-width="0.5"/>
<line x1="240.80" y1="203.64" x2="242.1" y2="203.64" stroke="#555" stroke-width="0.5"/>
<line x1="240.80" y1="210.32" x2="242.1" y2="210.32" stroke="#555" stroke-width="0.5"/>
<line x1="240.80" y1="217.00" x2="242.1" y2="217.00" stroke="#555" stroke-width="0.5"/>
<line x1="240.80" y1="223.68" x2="242.1" y2="223.68" stroke="#555" stroke-width="0.5"/>
<line x1="240.80" y1="230.36" x2="242.1" y2="230.36" stroke="#555" stroke-width="0.5"/>
<line x1="240.80" y1="237.04" x2="242.1" y2="237.04" stroke="#555" stroke-width="0.5"/>
<line x1="240.80" y1="243.72" x2="242.1" y2="243.72" stroke="#555" stroke-width="0.5"/>
<line x1="240.80" y1="250.40" x2="242.1" y2="250.40" stroke="#555" stroke-width="0.5"/>
<line x1="240.80" y1="257.08" x2="242.1" y2="257.08" stroke="#555" stroke-width="0.5"/>
<line x1="240.80" y1="263.76" x2="242.1" y2="263.76" stroke="#555" stroke-width="0.5"/>
<line x1="240.80" y1="270.44" x2="242.1" y2="270.44" stroke="#555" stroke-width="0.5"/>
<line x1="240.80" y1="277.12" x2="242.1" y2="277.12" stroke="#555" stroke-width="0.5"/>
<line x1="240.80" y1="283.80" x2="242.1" y2="283.80" stroke="#555" stroke-width="0.5"/>
<line x1="240.80" y1="290.48" x2="242.1" y2="290.48" stroke="#555" stroke-width="0.5"/>
<line x1="240.80" y1="297.16" x2="242.1" y2="297.16" stroke="#555" stroke-width="0.5"/>
<line x1="240.80" y1="303.84" x2="242.1" y2="303.84" stroke="#555" stroke-width="0.5"/>
<line x1="240.80" y1="310.52" x2="242.1" y2="310.52" stroke="#555" stroke-width="0.5"/>
<line x1="258.70" y1="314.0" x2="258.70" y2="315.3" stroke="#555" stroke-width="0.5"/>
<text x="258.70" y="320.80" font-size="4.88" fill="#222" text-anchor="middle" textLength="6.74" lengthAdjust="spacingAndGlyphs" stroke="#222" stroke-width="0.12">0.0</text>
<line x1="278.60" y1="314.0" x2="278.60" y2="315.3" stroke="#555" stroke-width="0.5"/>
<text x="278.60" y="320.80" font-size="4.88" fill="#222" text-anchor="middle" textLength="6.74" lengthAdjust="spacingAndGlyphs" stroke="#222" stroke-width="0.12">0.5</text>
<text x="265.95" y="177.60" font-size="6.13" fill="#111" text-anchor="middle" textLength="38.96" lengthAdjust="spacingAndGlyphs" stroke="#111" stroke-width="0.12">Anterior_nares</text>
<rect x="299.3" y="179.3" width="47.90" height="134.70" fill="#ffffff"/>
<rect x="314.90" y="181.25" width="7.10" height="4.7" fill="#cc5848" stroke="#9c3a2e" stroke-opacity="0.7" stroke-width="0.4"/>
<rect x="322.00" y="187.93" width="5.90" height="4.7" fill="#32548e" stroke="#233f70" stroke-opacity="0.7" stroke-width="0.4"/>
<rect x="320.30" y="194.61" width="1.70" height="4.7" fill="#cc5848" stroke="#9c3a2e" stroke-opacity="0.7" stroke-width="0.4"/>
<rect x="322.00" y="201.29" width="13.50" height="4.7" fill="#32548e" stroke="#233f70" stroke-opacity="0.7" stroke-width="0.4"/>
<rect x="322.00" y="207.97" width="2.80" height="4.7" fill="#32548e" stroke="#233f70" stroke-opacity="0.7" stroke-width="0.4"/>
<rect x="311.00" y="214.65" width="11.00" height="4.7" fill="#cc5848" stroke="#9c3a2e" stroke-opacity="0.7" stroke-width="0.4"/>
<rect x="301.80" y="221.33" width="20.20" height="4.7" fill="#cc5848" stroke="#9c3a2e" stroke-opacity="0.7" stroke-width="0.4"/>
<rect x="322.00" y="228.01" width="5.40" height="4.7" fill="#32548e" stroke="#233f70" stroke-opacity="0.7" stroke-width="0.4"/>
<rect x="322.00" y="234.69" width="22.90" height="4.7" fill="#32548e" stroke="#233f70" stroke-opacity="0.7" stroke-width="0.4"/>
<rect x="322.00" y="241.37" width="4.20" height="4.7" fill="#32548e" stroke="#233f70" stroke-opacity="0.7" stroke-width="0.4"/>
<rect x="322.00" y="248.05" width="8.90" height="4.7" fill="#32548e" stroke="#233f70" stroke-opacity="0.7" stroke-width="0.4"/>
<rect x="322.00" y="254.73" width="0.70" height="4.7" fill="#32548e" stroke="#233f70" stroke-opacity="0.7" stroke-width="0.4"/>
<rect x="322.00" y="261.41" width="0.50" height="4.7" fill="#32548e" stroke="#233f70" stroke-opacity="0.7" stroke-width="0.4"/>
<rect x="322.00" y="268.09" width="11.20" height="4.7" fill="#32548e" stroke="#233f70" stroke-opacity="0.7" stroke-width="0.4"/>
<rect x="307.70" y="274.77" width="14.30" height="4.7" fill="#cc5848" stroke="#9c3a2e" stroke-opacity="0.7" stroke-width="0.4"/>
<rect x="318.60" y="281.45" width="3.40" height="4.7" fill="#cc5848" stroke="#9c3a2e" stroke-opacity="0.7" stroke-width="0.4"/>
<rect x="322.00" y="288.13" width="4.80" height="4.7" fill="#32548e" stroke="#233f70" stroke-opacity="0.7" stroke-width="0.4"/>
<rect x="322.00" y="294.81" width="22.30" height="4.7" fill="#32548e" stroke="#233f70" stroke-opacity="0.7" stroke-width="0.4"/>
<rect x="320.70" y="301.49" width="1.30" height="4.7" fill="#cc5848" stroke="#9c3a2e" stroke-opacity="0.7" stroke-width="0.4"/>
<rect x="322.00" y="308.17" width="3.80" height="4.7" fill="#32548e" stroke="#233f70" stroke-opacity="0.7" stroke-width="0.4"/>
<rect x="299.3" y="179.3" width="47.90" height="134.70" fill="none" stroke="#8e8e8e" stroke-width="0.9"/>
<line x1="298.00" y1="183.60" x2="299.3" y2="183.60" stroke="#555" stroke-width="0.5"/>
<line x1="298.00" y1="190.28" x2="299.3" y2="190.28" stroke="#555" stroke-width="0.5"/>
<line x1="298.00" y1="196.96" x2="299.3" y2="196.96" stroke="#555" stroke-width="0.5"/>
<line x1="298.00" y1="203.64" x2="299.3" y2="203.64" stroke="#555" stroke-width="0.5"/>
<line x1="298.00" y1="210.32" x2="299.3" y2="210.32" stroke="#555" stroke-width="0.5"/>
<line x1="298.00" y1="217.00" x2="299.3" y2="217.00" stroke="#555" stroke-width="0.5"/>
<line x1="298.00" y1="223.68" x2="299.3" y2="223.68" stroke="#555" stroke-width="0.5"/>
<line x1="298.00" y1="230.36" x2="299.3" y2="230.36" stroke="#555" stroke-width="0.5"/>
<line x1="298.00" y1="237.04" x2="299.3" y2="237.04" stroke="#555" stroke-width="0.5"/>
<line x1="298.00" y1="243.72" x2="299.3" y2="243.72" stroke="#555" stroke-width="0.5"/>
<line x1="298.00" y1="250.40" x2="299.3" y2="250.40" stroke="#555" stroke-width="0.5"/>
<line x1="298.00" y1="257.08" x2="299.3" y2="257.08" stroke="#555" stroke-width="0.5"/>
<line x1="298.00" y1="263.76" x2="299.3" y2="263.76" stroke="#555" stroke-width="0.5"/>
<line x1="298.00" y1="270.44" x2="299.3" y2="270.44" stroke="#555" stroke-width="0.5"/>
<line x1="298.00" y1="277.12" x2="299.3" y2="277.12" stroke="#555" stroke-width="0.5"/>
<line x1="298.00" y1="283.80" x2="299.3" y2="283.80" stroke="#555" stroke-width="0.5"/>
<line x1="298.00" y1="290.48" x2="299.3" y2="290.48" stroke="#555" stroke-width="0.5"/>
<line x1="298.00" y1="297.16" x2="299.3" y2="297.16" stroke="#555" stroke-width="0.5"/>
<line x1="298.00" y1="303.84" x2="299.3" y2="303.84" stroke="#555" stroke-width="0.5"/>
<line x1="298.00" y1="310.52" x2="299.3" y2="310.52" stroke="#555" stroke-width="0.5"/>
<line x1="304.70" y1="314.0" x2="304.70" y2="315.3" stroke="#555" stroke-width="0.5"/>
<text x="304.70" y="320.80" font-size="4.88" fill="#222" text-anchor="middle" textLength="10.30" lengthAdjust="spacingAndGlyphs" stroke="#222" stroke-width="0.12">−0.5</text>
<line x1="322.00" y1="314.0" x2="322.00" y2="315.3" stroke="#555" stroke-width="0.5"/>
<text x="322.00" y="320.80" font-size="4.88" fill="#222" text-anchor="middle" textLength="6.74" lengthAdjust="spacingAndGlyphs" stroke="#222" stroke-width="0.12">0.0</text>
<line x1="339.30" y1="314.0" x2="339.30" y2="315.3" stroke="#555" stroke-width="0.5"/>
<text x="339.30" y="320.80" font-size="4.88" fill="#222" text-anchor="middle" textLength="6.74" lengthAdjust="spacingAndGlyphs" stroke="#222" stroke-width="0.12">0.5</text>
<text x="323.25" y="177.60" font-size="6.13" fill="#111" text-anchor="middle" textLength="41.11" lengthAdjust="spacingAndGlyphs" stroke="#111" stroke-width="0.12">Buccal_mucosa</text>
<rect x="356.6" y="179.3" width="48.00" height="134.70" fill="#ffffff"/>
<rect x="365.10" y="181.25" width="6.90" height="4.7" fill="#cc5848" stroke="#9c3a2e" stroke-opacity="0.7" stroke-width="0.4"/>
<rect x="360.20" y="187.93" width="11.80" height="4.7" fill="#cc5848" stroke="#9c3a2e" stroke-opacity="0.7" stroke-width="0.4"/>
<rect x="361.90" y="194.61" width="10.10" height="4.7" fill="#cc5848" stroke="#9c3a2e" stroke-opacity="0.7" stroke-width="0.4"/>
<rect x="372.00" y="207.97" width="16.30" height="4.7" fill="#32548e" stroke="#233f70" stroke-opacity="0.7" stroke-width="0.4"/>
<rect x="364.70" y="221.33" width="7.30" height="4.7" fill="#cc5848" stroke="#9c3a2e" stroke-opacity="0.7" stroke-width="0.4"/>
<rect x="366.40" y="234.69" width="5.60" height="4.7" fill="#cc5848" stroke="#9c3a2e" stroke-opacity="0.7" stroke-width="0.4"/>
<rect x="363.30" y="241.37" width="8.70" height="4.7" fill="#cc5848" stroke="#9c3a2e" stroke-opacity="0.7" stroke-width="0.4"/>
<rect x="372.00" y="248.05" width="22.70" height="4.7" fill="#32548e" stroke="#233f70" stroke-opacity="0.7" stroke-width="0.4"/>
<rect x="372.00" y="261.41" width="22.70" height="4.7" fill="#32548e" stroke="#233f70" stroke-opacity="0.7" stroke-width="0.4"/>
<rect x="371.60" y="268.09" width="0.40" height="4.7" fill="#cc5848" stroke="#9c3a2e" stroke-opacity="0.7" stroke-width="0.4"/>
<rect x="372.00" y="274.77" width="23.30" height="4.7" fill="#32548e" stroke="#233f70" stroke-opacity="0.7" stroke-width="0.4"/>
<rect x="371.30" y="281.45" width="0.70" height="4.7" fill="#cc5848" stroke="#9c3a2e" stroke-opacity="0.7" stroke-width="0.4"/>
<rect x="372.00" y="288.13" width="30.10" height="4.7" fill="#32548e" stroke="#233f70" stroke-opacity="0.7" stroke-width="0.4"/>
<rect x="359.20" y="294.81" width="12.80" height="4.7" fill="#cc5848" stroke="#9c3a2e" stroke-opacity="0.7" stroke-width="0.4"/>
<rect x="364.70" y="301.49" width="7.30" height="4.7" fill="#cc5848" stroke="#9c3a2e" stroke-opacity="0.7" stroke-width="0.4"/>
<rect x="369.20" y="308.17" width="2.80" height="4.7" fill="#cc5848" stroke="#9c3a2e" stroke-opacity="0.7" stroke-width="0.4"/>
<rect x="356.6" y="179.3" width="48.00" height="134.70" fill="none" stroke="#8e8e8e" stroke-width="0.9"/>
<line x1="355.30" y1="183.60" x2="356.6" y2="183.60" stroke="#555" stroke-width="0.5"/>
<line x1="355.30" y1="190.28" x2="356.6" y2="190.28" stroke="#555" stroke-width="0.5"/>
<line x1="355.30" y1="196.96" x2="356.6" y2="196.96" stroke="#555" stroke-width="0.5"/>
<line x1="355.30" y1="203.64" x2="356.6" y2="203.64" stroke="#555" stroke-width="0.5"/>
<line x1="355.30" y1="210.32" x2="356.6" y2="210.32" stroke="#555" stroke-width="0.5"/>
<line x1="355.30" y1="217.00" x2="356.6" y2="217.00" stroke="#555" stroke-width="0.5"/>
<line x1="355.30" y1="223.68" x2="356.6" y2="223.68" stroke="#555" stroke-width="0.5"/>
<line x1="355.30" y1="230.36" x2="356.6" y2="230.36" stroke="#555" stroke-width="0.5"/>
<line x1="355.30" y1="237.04" x2="356.6" y2="237.04" stroke="#555" stroke-width="0.5"/>
<line x1="355.30" y1="243.72" x2="356.6" y2="243.72" stroke="#555" stroke-width="0.5"/>
<line x1="355.30" y1="250.40" x2="356.6" y2="250.40" stroke="#555" stroke-width="0.5"/>
<line x1="355.30" y1="257.08" x2="356.6" y2="257.08" stroke="#555" stroke-width="0.5"/>
<line x1="355.30" y1="263.76" x2="356.6" y2="263.76" stroke="#555" stroke-width="0.5"/>
<line x1="355.30" y1="270.44" x2="356.6" y2="270.44" stroke="#555" stroke-width="0.5"/>
<line x1="355.30" y1="277.12" x2="356.6" y2="277.12" stroke="#555" stroke-width="0.5"/>
<line x1="355.30" y1="283.80" x2="356.6" y2="283.80" stroke="#555" stroke-width="0.5"/>
<line x1="355.30" y1="290.48" x2="356.6" y2="290.48" stroke="#555" stroke-width="0.5"/>
<line x1="355.30" y1="297.16" x2="356.6" y2="297.16" stroke="#555" stroke-width="0.5"/>
<line x1="355.30" y1="303.84" x2="356.6" y2="303.84" stroke="#555" stroke-width="0.5"/>
<line x1="355.30" y1="310.52" x2="356.6" y2="310.52" stroke="#555" stroke-width="0.5"/>
<line x1="372.00" y1="314.0" x2="372.00" y2="315.3" stroke="#555" stroke-width="0.5"/>
<text x="372.00" y="320.80" font-size="4.88" fill="#222" text-anchor="middle" textLength="6.74" lengthAdjust="spacingAndGlyphs" stroke="#222" stroke-width="0.12">0.0</text>
<line x1="395.10" y1="314.0" x2="395.10" y2="315.3" stroke="#555" stroke-width="0.5"/>
<text x="395.10" y="320.80" font-size="4.88" fill="#222" text-anchor="middle" textLength="6.74" lengthAdjust="spacingAndGlyphs" stroke="#222" stroke-width="0.12">0.5</text>
<text x="380.60" y="177.60" font-size="6.13" fill="#111" text-anchor="middle" textLength="13.48" lengthAdjust="spacingAndGlyphs" stroke="#111" stroke-width="0.12">Stool</text>
<rect x="413.8" y="179.3" width="48.00" height="134.70" fill="#ffffff"/>
<rect x="427.50" y="181.25" width="10.20" height="4.7" fill="#cc5848" stroke="#9c3a2e" stroke-opacity="0.7" stroke-width="0.4"/>
<rect x="437.70" y="187.93" width="9.90" height="4.7" fill="#32548e" stroke="#233f70" stroke-opacity="0.7" stroke-width="0.4"/>
<rect x="437.70" y="194.61" width="16.90" height="4.7" fill="#32548e" stroke="#233f70" stroke-opacity="0.7" stroke-width="0.4"/>
<rect x="433.20" y="201.29" width="4.50" height="4.7" fill="#cc5848" stroke="#9c3a2e" stroke-opacity="0.7" stroke-width="0.4"/>
<rect x="428.50" y="207.97" width="9.20" height="4.7" fill="#cc5848" stroke="#9c3a2e" stroke-opacity="0.7" stroke-width="0.4"/>
<rect x="437.70" y="214.65" width="13.00" height="4.7" fill="#32548e" stroke="#233f70" stroke-opacity="0.7" stroke-width="0.4"/>
<rect x="437.70" y="221.33" width="17.10" height="4.7" fill="#32548e" stroke="#233f70" stroke-opacity="0.7" stroke-width="0.4"/>
<rect x="437.70" y="228.01" width="7.80" height="4.7" fill="#32548e" stroke="#233f70" stroke-opacity="0.7" stroke-width="0.4"/>
<rect x="430.10" y="234.69" width="7.60" height="4.7" fill="#cc5848" stroke="#9c3a2e" stroke-opacity="0.7" stroke-width="0.4"/>
<rect x="432.20" y="241.37" width="5.50" height="4.7" fill="#cc5848" stroke="#9c3a2e" stroke-opacity="0.7" stroke-width="0.4"/>
<rect x="433.00" y="248.05" width="4.70" height="4.7" fill="#cc5848" stroke="#9c3a2e" stroke-opacity="0.7" stroke-width="0.4"/>
<rect x="424.80" y="254.73" width="12.90" height="4.7" fill="#cc5848" stroke="#9c3a2e" stroke-opacity="0.7" stroke-width="0.4"/>
<rect x="432.20" y="261.41" width="5.50" height="4.7" fill="#cc5848" stroke="#9c3a2e" stroke-opacity="0.7" stroke-width="0.4"/>
<rect x="428.10" y="268.09" width="9.60" height="4.7" fill="#cc5848" stroke="#9c3a2e" stroke-opacity="0.7" stroke-width="0.4"/>
<rect x="432.20" y="274.77" width="5.50" height="4.7" fill="#cc5848" stroke="#9c3a2e" stroke-opacity="0.7" stroke-width="0.4"/>
<rect x="416.60" y="281.45" width="21.10" height="4.7" fill="#cc5848" stroke="#9c3a2e" stroke-opacity="0.7" stroke-width="0.4"/>
<rect x="432.20" y="288.13" width="5.50" height="4.7" fill="#cc5848" stroke="#9c3a2e" stroke-opacity="0.7" stroke-width="0.4"/>
<rect x="437.70" y="294.81" width="0.40" height="4.7" fill="#32548e" stroke="#233f70" stroke-opacity="0.7" stroke-width="0.4"/>
<rect x="437.70" y="308.17" width="22.20" height="4.7" fill="#32548e" stroke="#233f70" stroke-opacity="0.7" stroke-width="0.4"/>
<rect x="413.8" y="179.3" width="48.00" height="134.70" fill="none" stroke="#8e8e8e" stroke-width="0.9"/>
<line x1="412.50" y1="183.60" x2="413.8" y2="183.60" stroke="#555" stroke-width="0.5"/>
<line x1="412.50" y1="190.28" x2="413.8" y2="190.28" stroke="#555" stroke-width="0.5"/>
<line x1="412.50" y1="196.96" x2="413.8" y2="196.96" stroke="#555" stroke-width="0.5"/>
<line x1="412.50" y1="203.64" x2="413.8" y2="203.64" stroke="#555" stroke-width="0.5"/>
<line x1="412.50" y1="210.32" x2="413.8" y2="210.32" stroke="#555" stroke-width="0.5"/>
<line x1="412.50" y1="217.00" x2="413.8" y2="217.00" stroke="#555" stroke-width="0.5"/>
<line x1="412.50" y1="223.68" x2="413.8" y2="223.68" stroke="#555" stroke-width="0.5"/>
<line x1="412.50" y1="230.36" x2="413.8" y2="230.36" stroke="#555" stroke-width="0.5"/>
<line x1="412.50" y1="237.04" x2="413.8" y2="237.04" stroke="#555" stroke-width="0.5"/>
<line x1="412.50" y1="243.72" x2="413.8" y2="243.72" stroke="#555" stroke-width="0.5"/>
<line x1="412.50" y1="250.40" x2="413.8" y2="250.40" stroke="#555" stroke-width="0.5"/>
<line x1="412.50" y1="257.08" x2="413.8" y2="257.08" stroke="#555" stroke-width="0.5"/>
<line x1="412.50" y1="263.76" x2="413.8" y2="263.76" stroke="#555" stroke-width="0.5"/>
<line x1="412.50" y1="270.44" x2="413.8" y2="270.44" stroke="#555" stroke-width="0.5"/>
<line x1="412.50" y1="277.12" x2="413.8" y2="277.12" stroke="#555" stroke-width="0.5"/>
<line x1="412.50" y1="283.80" x2="413.8" y2="283.80" stroke="#555" stroke-width="0.5"/>
<line x1="412.50" y1="290.48" x2="413.8" y2="290.48" stroke="#555" stroke-width="0.5"/>
<line x1="412.50" y1="297.16" x2="413.8" y2="297.16" stroke="#555" stroke-width="0.5"/>
<line x1="412.50" y1="303.84" x2="413.8" y2="303.84" stroke="#555" stroke-width="0.5"/>
<line x1="412.50" y1="310.52" x2="413.8" y2="310.52" stroke="#555" stroke-width="0.5"/>
<line x1="421.20" y1="314.0" x2="421.20" y2="315.3" stroke="#555" stroke-width="0.5"/>
<text x="421.20" y="320.80" font-size="4.88" fill="#222" text-anchor="middle" textLength="10.30" lengthAdjust="spacingAndGlyphs" stroke="#222" stroke-width="0.12">−0.5</text>
<line x1="437.70" y1="314.0" x2="437.70" y2="315.3" stroke="#555" stroke-width="0.5"/>
<text x="437.70" y="320.80" font-size="4.88" fill="#222" text-anchor="middle" textLength="6.74" lengthAdjust="spacingAndGlyphs" stroke="#222" stroke-width="0.12">0.0</text>
<line x1="454.20" y1="314.0" x2="454.20" y2="315.3" stroke="#555" stroke-width="0.5"/>
<text x="454.20" y="320.80" font-size="4.88" fill="#222" text-anchor="middle" textLength="6.74" lengthAdjust="spacingAndGlyphs" stroke="#222" stroke-width="0.12">0.5</text>
<text x="437.80" y="177.60" font-size="6.13" fill="#111" text-anchor="middle" textLength="57.45" lengthAdjust="spacingAndGlyphs" stroke="#111" stroke-width="0.12">Supragingival_plaque</text>
<rect x="471.3" y="179.3" width="47.90" height="134.70" fill="#ffffff"/>
<rect x="494.90" y="181.25" width="0.90" height="4.7" fill="#32548e" stroke="#233f70" stroke-opacity="0.7" stroke-width="0.4"/>
<rect x="473.80" y="187.93" width="21.10" height="4.7" fill="#cc5848" stroke="#9c3a2e" stroke-opacity="0.7" stroke-width="0.4"/>
<rect x="481.00" y="194.61" width="13.90" height="4.7" fill="#cc5848" stroke="#9c3a2e" stroke-opacity="0.7" stroke-width="0.4"/>
<rect x="486.10" y="201.29" width="8.80" height="4.7" fill="#cc5848" stroke="#9c3a2e" stroke-opacity="0.7" stroke-width="0.4"/>
<rect x="490.50" y="207.97" width="4.40" height="4.7" fill="#cc5848" stroke="#9c3a2e" stroke-opacity="0.7" stroke-width="0.4"/>
<rect x="492.70" y="214.65" width="2.20" height="4.7" fill="#cc5848" stroke="#9c3a2e" stroke-opacity="0.7" stroke-width="0.4"/>
<rect x="494.90" y="221.33" width="5.60" height="4.7" fill="#32548e" stroke="#233f70" stroke-opacity="0.7" stroke-width="0.4"/>
<rect x="486.00" y="228.01" width="8.90" height="4.7" fill="#cc5848" stroke="#9c3a2e" stroke-opacity="0.7" stroke-width="0.4"/>
<rect x="489.60" y="234.69" width="5.30" height="4.7" fill="#cc5848" stroke="#9c3a2e" stroke-opacity="0.7" stroke-width="0.4"/>
<rect x="494.90" y="241.37" width="7.10" height="4.7" fill="#32548e" stroke="#233f70" stroke-opacity="0.7" stroke-width="0.4"/>
<rect x="484.90" y="248.05" width="10.00" height="4.7" fill="#cc5848" stroke="#9c3a2e" stroke-opacity="0.7" stroke-width="0.4"/>
<rect x="494.90" y="254.73" width="11.20" height="4.7" fill="#32548e" stroke="#233f70" stroke-opacity="0.7" stroke-width="0.4"/>
<rect x="491.10" y="261.41" width="3.80" height="4.7" fill="#cc5848" stroke="#9c3a2e" stroke-opacity="0.7" stroke-width="0.4"/>
<rect x="494.90" y="268.09" width="2.50" height="4.7" fill="#32548e" stroke="#233f70" stroke-opacity="0.7" stroke-width="0.4"/>
<rect x="494.90" y="274.77" width="5.60" height="4.7" fill="#32548e" stroke="#233f70" stroke-opacity="0.7" stroke-width="0.4"/>
<rect x="494.90" y="281.45" width="22.10" height="4.7" fill="#32548e" stroke="#233f70" stroke-opacity="0.7" stroke-width="0.4"/>
<rect x="485.90" y="288.13" width="9.00" height="4.7" fill="#cc5848" stroke="#9c3a2e" stroke-opacity="0.7" stroke-width="0.4"/>
<rect x="493.10" y="294.81" width="1.80" height="4.7" fill="#cc5848" stroke="#9c3a2e" stroke-opacity="0.7" stroke-width="0.4"/>
<rect x="494.90" y="301.49" width="12.80" height="4.7" fill="#32548e" stroke="#233f70" stroke-opacity="0.7" stroke-width="0.4"/>
<rect x="488.20" y="308.17" width="6.70" height="4.7" fill="#cc5848" stroke="#9c3a2e" stroke-opacity="0.7" stroke-width="0.4"/>
<rect x="471.3" y="179.3" width="47.90" height="134.70" fill="none" stroke="#8e8e8e" stroke-width="0.9"/>
<line x1="470.00" y1="183.60" x2="471.3" y2="183.60" stroke="#555" stroke-width="0.5"/>
<line x1="470.00" y1="190.28" x2="471.3" y2="190.28" stroke="#555" stroke-width="0.5"/>
<line x1="470.00" y1="196.96" x2="471.3" y2="196.96" stroke="#555" stroke-width="0.5"/>
<line x1="470.00" y1="203.64" x2="471.3" y2="203.64" stroke="#555" stroke-width="0.5"/>
<line x1="470.00" y1="210.32" x2="471.3" y2="210.32" stroke="#555" stroke-width="0.5"/>
<line x1="470.00" y1="217.00" x2="471.3" y2="217.00" stroke="#555" stroke-width="0.5"/>
<line x1="470.00" y1="223.68" x2="471.3" y2="223.68" stroke="#555" stroke-width="0.5"/>
<line x1="470.00" y1="230.36" x2="471.3" y2="230.36" stroke="#555" stroke-width="0.5"/>
<line x1="470.00" y1="237.04" x2="471.3" y2="237.04" stroke="#555" stroke-width="0.5"/>
<line x1="470.00" y1="243.72" x2="471.3" y2="243.72" stroke="#555" stroke-width="0.5"/>
<line x1="470.00" y1="250.40" x2="471.3" y2="250.40" stroke="#555" stroke-width="0.5"/>
<line x1="470.00" y1="257.08" x2="471.3" y2="257.08" stroke="#555" stroke-width="0.5"/>
<line x1="470.00" y1="263.76" x2="471.3" y2="263.76" stroke="#555" stroke-width="0.5"/>
<line x1="470.00" y1="270.44" x2="471.3" y2="270.44" stroke="#555" stroke-width="0.5"/>
<line x1="470.00" y1="277.12" x2="471.3" y2="277.12" stroke="#555" stroke-width="0.5"/>
<line x1="470.00" y1="283.80" x2="471.3" y2="283.80" stroke="#555" stroke-width="0.5"/>
<line x1="470.00" y1="290.48" x2="471.3" y2="290.48" stroke="#555" stroke-width="0.5"/>
<line x1="470.00" y1="297.16" x2="471.3" y2="297.16" stroke="#555" stroke-width="0.5"/>
<line x1="470.00" y1="303.84" x2="471.3" y2="303.84" stroke="#555" stroke-width="0.5"/>
<line x1="470.00" y1="310.52" x2="471.3" y2="310.52" stroke="#555" stroke-width="0.5"/>
<line x1="473.30" y1="314.0" x2="473.30" y2="315.3" stroke="#555" stroke-width="0.5"/>
<text x="473.30" y="320.80" font-size="4.88" fill="#222" text-anchor="middle" textLength="6.25" lengthAdjust="spacingAndGlyphs" stroke="#222" stroke-width="0.12">−1</text>
<line x1="494.90" y1="314.0" x2="494.90" y2="315.3" stroke="#555" stroke-width="0.5"/>
<text x="494.90" y="320.80" font-size="4.88" fill="#222" text-anchor="middle" textLength="2.70" lengthAdjust="spacingAndGlyphs" stroke="#222" stroke-width="0.12">0</text>
<line x1="516.50" y1="314.0" x2="516.50" y2="315.3" stroke="#555" stroke-width="0.5"/>
<text x="516.50" y="320.80" font-size="4.88" fill="#222" text-anchor="middle" textLength="2.70" lengthAdjust="spacingAndGlyphs" stroke="#222" stroke-width="0.12">1</text>
<text x="495.25" y="177.60" font-size="6.13" fill="#111" text-anchor="middle" textLength="41.88" lengthAdjust="spacingAndGlyphs" stroke="#111" stroke-width="0.12">Tongue_dorsum</text>
<text x="239.70" y="185.70" font-size="4.88" fill="#222" text-anchor="end" textLength="8.09" lengthAdjust="spacingAndGlyphs" stroke="#222" stroke-width="0.12">256</text>
<text x="239.70" y="192.38" font-size="4.88" fill="#222" text-anchor="end" textLength="8.09" lengthAdjust="spacingAndGlyphs" stroke="#222" stroke-width="0.12">220</text>
<text x="239.70" y="199.06" font-size="4.88" fill="#222" text-anchor="end" textLength="8.09" lengthAdjust="spacingAndGlyphs" stroke="#222" stroke-width="0.12">179</text>
<text x="239.70" y="205.74" font-size="4.88" fill="#222" text-anchor="end" textLength="8.09" lengthAdjust="spacingAndGlyphs" stroke="#222" stroke-width="0.12">151</text>
<text x="239.70" y="212.42" font-size="4.88" fill="#222" text-anchor="end" textLength="8.09" lengthAdjust="spacingAndGlyphs" stroke="#222" stroke-width="0.12">133</text>
<text x="239.70" y="219.10" font-size="4.88" fill="#222" text-anchor="end" textLength="5.40" lengthAdjust="spacingAndGlyphs" stroke="#222" stroke-width="0.12">55</text>
<text x="239.70" y="225.78" font-size="4.88" fill="#222" text-anchor="end" textLength="8.09" lengthAdjust="spacingAndGlyphs" stroke="#222" stroke-width="0.12">299</text>
<text x="239.70" y="232.46" font-size="4.88" fill="#222" text-anchor="end" textLength="8.09" lengthAdjust="spacingAndGlyphs" stroke="#222" stroke-width="0.12">277</text>
<text x="239.70" y="239.14" font-size="4.88" fill="#222" text-anchor="end" textLength="5.40" lengthAdjust="spacingAndGlyphs" stroke="#222" stroke-width="0.12">56</text>
<text x="239.70" y="245.82" font-size="4.88" fill="#222" text-anchor="end" textLength="8.09" lengthAdjust="spacingAndGlyphs" stroke="#222" stroke-width="0.12">314</text>
<text x="239.70" y="252.50" font-size="4.88" fill="#222" text-anchor="end" textLength="8.09" lengthAdjust="spacingAndGlyphs" stroke="#222" stroke-width="0.12">289</text>
<text x="239.70" y="259.18" font-size="4.88" fill="#222" text-anchor="end" textLength="8.09" lengthAdjust="spacingAndGlyphs" stroke="#222" stroke-width="0.12">159</text>
<text x="239.70" y="265.86" font-size="4.88" fill="#222" text-anchor="end" textLength="8.09" lengthAdjust="spacingAndGlyphs" stroke="#222" stroke-width="0.12">134</text>
<text x="239.70" y="272.54" font-size="4.88" fill="#222" text-anchor="end" textLength="5.40" lengthAdjust="spacingAndGlyphs" stroke="#222" stroke-width="0.12">21</text>
<text x="239.70" y="279.22" font-size="4.88" fill="#222" text-anchor="end" textLength="5.40" lengthAdjust="spacingAndGlyphs" stroke="#222" stroke-width="0.12">96</text>
<text x="239.70" y="285.90" font-size="4.88" fill="#222" text-anchor="end" textLength="5.40" lengthAdjust="spacingAndGlyphs" stroke="#222" stroke-width="0.12">31</text>
<text x="239.70" y="292.58" font-size="4.88" fill="#222" text-anchor="end" textLength="8.09" lengthAdjust="spacingAndGlyphs" stroke="#222" stroke-width="0.12">259</text>
<text x="239.70" y="299.26" font-size="4.88" fill="#222" text-anchor="end" textLength="8.09" lengthAdjust="spacingAndGlyphs" stroke="#222" stroke-width="0.12">308</text>
<text x="239.70" y="305.94" font-size="4.88" fill="#222" text-anchor="end" textLength="8.09" lengthAdjust="spacingAndGlyphs" stroke="#222" stroke-width="0.12">229</text>
<text x="239.70" y="312.62" font-size="4.88" fill="#222" text-anchor="end" textLength="5.40" lengthAdjust="spacingAndGlyphs" stroke="#222" stroke-width="0.12">79</text>
<text x="375.10" y="329.70" font-size="6.01" fill="#222" text-anchor="middle" textLength="68.26" lengthAdjust="spacingAndGlyphs" stroke="#222" stroke-width="0.12">Coefficient of the features</text>
</svg></div>
</body></html>
